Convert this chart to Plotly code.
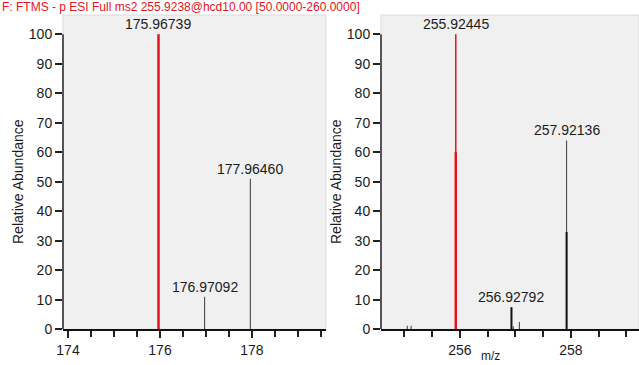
import plotly.graph_objects as go

# ── Data ──────────────────────────────────────────────────────────────────────
HEADER = "F: FTMS - p ESI Full ms2 255.9238@hcd10.00 [50.0000-260.0000]"

# left spectrum (m/z, relative abundance)
left_base_mz = [175.96739]
left_base_int = [100]
left_mz = [176.97092, 177.96460]
left_int = [11, 51]
left_labels = ["175.96739", "176.97092", "177.96460"]
left_label_mz = [175.96739, 176.97092, 177.96460]
left_label_int = [100, 11, 51]

# right spectrum
right_base_mz = [255.92445]
right_base_int = [100]
right_base_core = [60]
right_mz = [255.05, 255.12, 256.92792, 256.96, 257.07, 257.92136]
right_int = [1.2, 1.2, 7.5, 1.0, 2.5, 64]
right_core_mz = [256.92792, 257.92136]
right_core_int = [7.5, 33]
right_labels = ["255.92445", "256.92792", "257.92136"]
right_label_mz = [255.92445, 256.92792, 257.92136]
right_label_int = [100, 7.5, 64]

y_ticks = list(range(0, 101, 10))

_FONT = "Liberation Sans, Arial, sans-serif"
_TXT = "#1c1c1c"
_RED = "#e3141c"
_BG = "#f0f0f0"


def sticks(mz, inten):
    xs, ys = [], []
    for m, h in zip(mz, inten):
        xs += [m, m, None]
        ys += [0, h, None]
    return xs, ys


fig = go.Figure()

panels = [
    ("x", "y", left_base_mz, left_base_int, None, left_mz, left_int, None, None,
     left_labels, left_label_mz, left_label_int),
    ("x2", "y2", right_base_mz, right_base_int, right_base_core, right_mz, right_int,
     right_core_mz, right_core_int, right_labels, right_label_mz, right_label_int),
]

for xa, ya, bmz, bint, bcore, mz, inten, cmz, cint, labels, lmz, lint in panels:
    x, y = sticks(mz, inten)
    fig.add_trace(go.Scatter(x=x, y=y, mode="lines", xaxis=xa, yaxis=ya,
                             line=dict(color="#3a3a3a", width=1), hoverinfo="skip"))
    if cmz:
        x, y = sticks(cmz, cint)
        fig.add_trace(go.Scatter(x=x, y=y, mode="lines", xaxis=xa, yaxis=ya,
                                 line=dict(color="#111", width=2), hoverinfo="skip"))
    x, y = sticks(bmz, bint)
    fig.add_trace(go.Scatter(x=x, y=y, mode="lines", xaxis=xa, yaxis=ya,
                             line=dict(color=_RED, width=1.5 if bcore else 2.5),
                             hoverinfo="skip"))
    if bcore:
        x, y = sticks(bmz, bcore)
        fig.add_trace(go.Scatter(x=x, y=y, mode="lines", xaxis=xa, yaxis=ya,
                                 line=dict(color=_RED, width=2.5), hoverinfo="skip"))
    for t, m, h in zip(labels, lmz, lint):
        fig.add_annotation(x=m, y=h, xref=xa, yref=ya, text=t, showarrow=False,
                           yanchor="bottom", yshift=0,
                           font=dict(size=14, color=_TXT, family=_FONT))
    # y axis line only from 0 to 100
    fig.add_shape(type="line", xref=f"{xa} domain", yref=ya, x0=0, x1=0, y0=0, y1=100,
                  line=dict(color="#555", width=2))
    # faint frame around the plotting box
    fig.add_shape(type="rect", xref=f"{xa} domain", yref=f"{ya} domain",
                  x0=0, x1=1, y0=0, y1=1, layer="below",
                  line=dict(color="#dadada", width=1))

axis_common = dict(
    showgrid=False, zeroline=False, ticks="outside", tickcolor="#222",
    automargin=False,
    tickfont=dict(size=14, color=_TXT, family=_FONT),
)

fig.update_layout(
    width=639, height=365,
    margin=dict(l=0, r=0, t=0, b=0, autoexpand=False),
    paper_bgcolor="white",
    plot_bgcolor=_BG,
    showlegend=False,
    font=dict(family=_FONT),
    xaxis=dict(domain=[63 / 639, 326 / 639], range=[173.891, 179.61],
               tickvals=[174, 176, 178], ticklen=7, tickwidth=1.5,
               showline=True, linecolor="#111", linewidth=2, anchor="y",
               minor=dict(dtick=0.5, tick0=174, ticks="outside", ticklen=6,
                          tickcolor="#222", tickwidth=1.5),
               **axis_common),
    yaxis=dict(domain=[0.0978, 0.9589], range=[0, 106.5], tickvals=y_ticks,
               ticklen=7, tickwidth=1.5, showline=False, anchor="x", **axis_common),
    xaxis2=dict(domain=[381 / 639, 1], range=[254.577, 259.226],
                tickvals=[256, 258], ticklen=7, tickwidth=1.5,
                showline=True, linecolor="#111", linewidth=2, anchor="y2",
                minor=dict(dtick=0.5, tick0=256, ticks="outside", ticklen=6,
                           tickcolor="#222", tickwidth=1.5),
                **axis_common),
    yaxis2=dict(domain=[0.0978, 0.9589], range=[0, 106.5], tickvals=y_ticks,
                ticklen=7, tickwidth=1.5, showline=False, anchor="x2", **axis_common),
)

# header, axis titles
fig.add_annotation(x=0, y=1, xref="paper", yref="paper", xanchor="left", yanchor="top",
                   text=HEADER, showarrow=False, yshift=2,
                   font=dict(size=12, color=_RED, family=_FONT))
for xp in [18, 336]:
    fig.add_annotation(x=xp / 639, y=1 - 182 / 365, xref="paper", yref="paper",
                       xanchor="center", yanchor="middle",
                       text="Relative Abundance", textangle=-90, showarrow=False,
                       font=dict(size=14, color=_TXT, family=_FONT))
fig.add_annotation(x=502 / 639, y=0, xref="paper", yref="paper", yanchor="bottom",
                   text="m/z", showarrow=False, yshift=0,
                   font=dict(size=12, color=_TXT, family=_FONT))

# the page's default body margin would shift the figure by 8px
fig.write_html("out.html", config={"displayModeBar": False},
               post_script="document.body.style.margin='0';")
